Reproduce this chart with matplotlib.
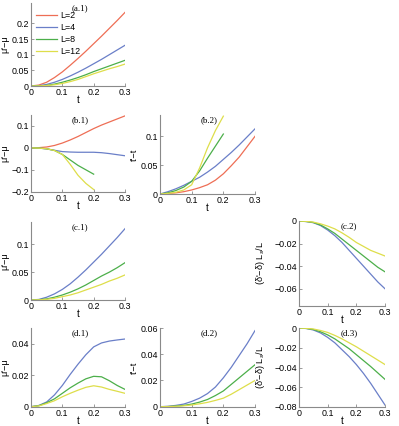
import matplotlib
matplotlib.use('Agg')
import matplotlib.pyplot as plt
from matplotlib.ticker import FuncFormatter

plt.rcParams['font.family'] = ['Liberation Sans', 'DejaVu Sans']

t = [0, 0.025, 0.05, 0.075, 0.1, 0.125, 0.15, 0.175, 0.2, 0.225, 0.25, 0.275, 0.3]
t_short = t[:9]
labels = ['L=2', 'L=4', 'L=8', 'L=12']
colors = ['#ee6e55', '#6a7fc8', '#4caf4a', '#dede4a']

# (a.1)  mu'-mu
a1_red = [0, 0.003, 0.012, 0.027, 0.045, 0.066, 0.088, 0.111, 0.135, 0.159, 0.184, 0.209, 0.235]
a1_blue = [0, 0.001, 0.005, 0.012, 0.021, 0.032, 0.044, 0.057, 0.071, 0.085, 0.1, 0.115, 0.13]
a1_green = [0, 0.0005, 0.002, 0.006, 0.012, 0.019, 0.027, 0.036, 0.046, 0.055, 0.064, 0.073, 0.082]
a1_yellow = [0, 0.0003, 0.0015, 0.004, 0.008, 0.014, 0.021, 0.03, 0.039, 0.047, 0.055, 0.062, 0.07]

# (b.1)  mu'-mu
b1_red = [0, 0.001, 0.004, 0.011, 0.022, 0.036, 0.052, 0.07, 0.088, 0.104, 0.118, 0.132, 0.146]
b1_blue = [0, -0.001, -0.005, -0.011, -0.017, -0.019, -0.02, -0.02, -0.02, -0.022, -0.026, -0.031, -0.036]
b1_green = [0, -0.001, -0.004, -0.012, -0.03, -0.055, -0.08, -0.1, -0.12]
b1_yellow = [0, -0.001, -0.004, -0.012, -0.03, -0.075, -0.125, -0.162, -0.19]

# (b.2)  t'-t
b2_red = [0, 0.001, 0.002, 0.004, 0.007, 0.011, 0.016, 0.024, 0.035, 0.049, 0.064, 0.082, 0.1]
b2_blue = [0, 0.004, 0.009, 0.015, 0.022, 0.029, 0.038, 0.048, 0.06, 0.072, 0.085, 0.099, 0.113]
b2_green = [0, 0.002, 0.006, 0.012, 0.022, 0.04, 0.062, 0.083, 0.104]
b2_yellow = [0, 0.001, 0.003, 0.007, 0.016, 0.045, 0.08, 0.11, 0.135]

# (c.1)  mu'-mu
c1_blue = [0, 0.001, 0.005, 0.011, 0.019, 0.029, 0.041, 0.054, 0.068, 0.082, 0.097, 0.112, 0.128]
c1_green = [0, 0.0005, 0.002, 0.005, 0.009, 0.014, 0.02, 0.027, 0.035, 0.043, 0.05, 0.058, 0.067]
c1_yellow = [0, 0.0003, 0.0012, 0.003, 0.006, 0.009, 0.013, 0.018, 0.023, 0.028, 0.034, 0.039, 0.045]

# (c.2)  delta
c2_blue = [0, -0.0005, -0.0015, -0.004, -0.008, -0.013, -0.019, -0.026, -0.033, -0.04, -0.047, -0.054, -0.06]
c2_green = [0, -0.0004, -0.0013, -0.0035, -0.007, -0.011, -0.016, -0.021, -0.026, -0.031, -0.036, -0.041, -0.045]
c2_yellow = [0, -0.0003, -0.001, -0.0025, -0.0045, -0.007, -0.0105, -0.0145, -0.019, -0.0225, -0.026, -0.0285, -0.031]

# (d.1)  mu'-mu
d1_blue = [0, 0.0008, 0.003, 0.0075, 0.0135, 0.0205, 0.027, 0.033, 0.038, 0.0405, 0.0417, 0.0424, 0.043]
d1_green = [0, 0.0006, 0.0025, 0.005, 0.0085, 0.012, 0.015, 0.0177, 0.0193, 0.019, 0.0165, 0.0135, 0.011]
d1_yellow = [0, 0.0005, 0.002, 0.0038, 0.0063, 0.0085, 0.0105, 0.0123, 0.0133, 0.0125, 0.011, 0.0098, 0.0085]

# (d.2)  t'-t
d2_blue = [0, 0.0003, 0.001, 0.002, 0.004, 0.0065, 0.01, 0.015, 0.022, 0.03, 0.039, 0.048, 0.058]
d2_green = [0, 0.0001, 0.0005, 0.001, 0.002, 0.0035, 0.0055, 0.0085, 0.012, 0.017, 0.022, 0.027, 0.032]
d2_yellow = [0, 0.0001, 0.0003, 0.0007, 0.0013, 0.0022, 0.0033, 0.0048, 0.0065, 0.0095, 0.013, 0.0165, 0.02]

# (d.3)  delta
d3_blue = [0, -0.0005, -0.002, -0.005, -0.0095, -0.015, -0.022, -0.029, -0.037, -0.046, -0.056, -0.067, -0.078]
d3_green = [0, -0.0004, -0.0015, -0.0038, -0.007, -0.011, -0.016, -0.021, -0.027, -0.033, -0.039, -0.0455, -0.052]
d3_yellow = [0, -0.0003, -0.001, -0.0025, -0.0045, -0.0075, -0.011, -0.015, -0.019, -0.0235, -0.028, -0.0325, -0.037]

W, H = 399, 426
fig = plt.figure(figsize=(W / 100, H / 100), dpi=100)


def rect(l, tp, r, b):
    return [l / W, 1 - b / H, (r - l) / W, (b - tp) / H]


def fmt(v, pos):
    s = '%g' % v
    return s.replace('-', '\u2212')


def panel(box, title, ylabel, ylim, yticks, tx, ylab_px):
    ax = fig.add_axes(rect(*box))
    ax.set_xlim(0, 0.3)
    ax.set_ylim(*ylim)
    ax.set_xticks([0, 0.1, 0.2, 0.3])
    ax.set_yticks(yticks)
    ax.xaxis.set_major_formatter(FuncFormatter(fmt))
    ax.yaxis.set_major_formatter(FuncFormatter(fmt))
    for s in ['top', 'right']:
        ax.spines[s].set_visible(False)
    for s in ['left', 'bottom']:
        ax.spines[s].set_color('#8a8a8a')
        ax.spines[s].set_linewidth(0.8)
    ax.tick_params(direction='in', length=2.5, width=0.6, color='#8a8a8a',
                   labelsize=6.4, pad=1.5)
    ax.set_xlabel('t', fontsize=7)
    ax.xaxis.set_label_coords(0.5, -9.3 / (box[3] - box[1]))
    ax.set_ylabel(ylabel, fontsize=6.6)
    ax.yaxis.set_label_coords((ylab_px - box[0]) / (box[2] - box[0]), 0.5)
    ax.text(tx, 0.985, title, transform=ax.transAxes, ha='center', va='top',
            fontsize=6.5, family='Liberation Serif')
    return ax


lw = 0.9

ax = panel((31, 3, 125, 86), '(a.1)', "\u03bc'\u2212\u03bc", (0, 0.265),
           [0, 0.05, 0.1, 0.15, 0.2], 0.52, 9)
for y, c, l in zip([a1_red, a1_blue, a1_green, a1_yellow], colors, labels):
    ax.plot(t, y, color=c, lw=lw, label=l)
ax.legend(loc='upper left', frameon=False, fontsize=6.4, handlelength=2.3,
          handletextpad=0.4, labelspacing=0.35, borderaxespad=0.2,
          bbox_to_anchor=(0.0, 0.97))

ax = panel((31, 115, 125, 191.7), '(b.1)', "\u03bc'\u2212\u03bc", (-0.2, 0.15),
           [-0.2, -0.1, 0, 0.1], 0.52, 9)
ax.plot(t, b1_red, color=colors[0], lw=lw)
ax.plot(t, b1_blue, color=colors[1], lw=lw)
ax.plot(t_short, b1_green, color=colors[2], lw=lw)
ax.plot(t_short, b1_yellow, color=colors[3], lw=lw)

ax = panel((160, 115, 255, 194), '(b.2)', "t'\u2212t", (0, 0.137),
           [0, 0.05, 0.1], 0.52, 139)
ax.plot(t, b2_red, color=colors[0], lw=lw)
ax.plot(t, b2_blue, color=colors[1], lw=lw)
ax.plot(t_short, b2_green, color=colors[2], lw=lw)
ax.plot(t_short, b2_yellow, color=colors[3], lw=lw)

ax = panel((31, 222, 125, 300), '(c.1)', "\u03bc'\u2212\u03bc", (0, 0.14),
           [0, 0.05, 0.1], 0.52, 9)
for y, c in zip([c1_blue, c1_green, c1_yellow], colors[1:]):
    ax.plot(t, y, color=c, lw=lw)

ax = panel((299, 221, 385, 305.7), '(c.2)', "(\u03b4'\u2212\u03b4) L$_s$/L", (-0.075, 0),
           [-0.06, -0.04, -0.02, 0], 0.58, 267)
for y, c in zip([c2_blue, c2_green, c2_yellow], colors[1:]):
    ax.plot(t, y, color=c, lw=lw)

ax = panel((31, 328, 125, 406.7), '(d.1)', "\u03bc'\u2212\u03bc", (0, 0.05),
           [0, 0.02, 0.04], 0.52, 9)
for y, c in zip([d1_blue, d1_green, d1_yellow], colors[1:]):
    ax.plot(t, y, color=c, lw=lw)

ax = panel((160, 328, 255, 406.7), '(d.2)', "t'\u2212t", (0, 0.06),
           [0, 0.02, 0.04, 0.06], 0.52, 139)
for y, c in zip([d2_blue, d2_green, d2_yellow], colors[1:]):
    ax.plot(t, y, color=c, lw=lw)

ax = panel((299, 328, 385, 407), '(d.3)', "(\u03b4'\u2212\u03b4) L$_s$/L", (-0.08, 0),
           [-0.08, -0.06, -0.04, -0.02, 0], 0.58, 267)
for y, c in zip([d3_blue, d3_green, d3_yellow], colors[1:]):
    ax.plot(t, y, color=c, lw=lw)

fig.savefig('out.png', dpi=100)
